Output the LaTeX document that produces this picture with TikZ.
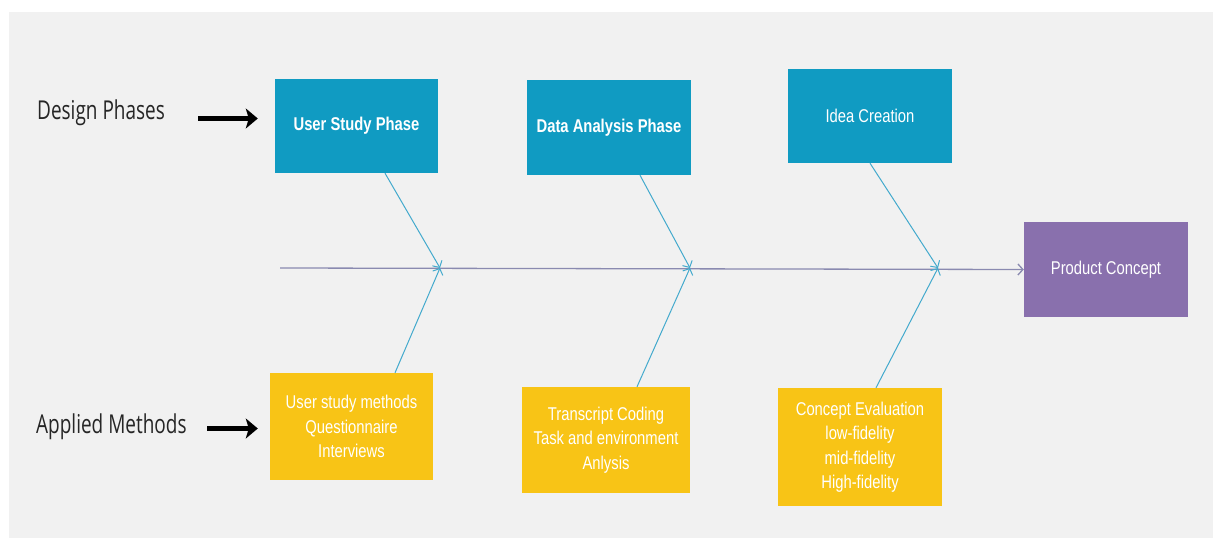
\documentclass[tikz,border=0pt]{standalone}
\usepackage{fontspec}
\usetikzlibrary{arrows.meta,calc}
\newfontfamily\boxfont[FakeStretch=0.8]{Liberation Sans}
\newfontfamily\labelfont[FakeStretch=0.73]{Open Sans}
\definecolor{bggray}{HTML}{F1F1F1}
\definecolor{phaseteal}{HTML}{109BC2}
\definecolor{methodyellow}{HTML}{F8C416}
\definecolor{conceptpurple}{HTML}{8970AD}
\definecolor{branchblue}{HTML}{43AACD}
\definecolor{spinegray}{HTML}{8A8AB0}
\tikzset{
	phase/.style={fill=phaseteal, text=white, align=center, inner sep=2pt,
		font=\boxfont\bfseries\fontsize{18.5}{24.5}\selectfont},
	method/.style={fill=methodyellow, text=white, align=center, inner sep=2pt,
		font=\boxfont\fontsize{18.5}{24.5}\selectfont},
	sidelabel/.style={text=black!85, inner sep=0pt, anchor=base west,
		font=\labelfont\fontsize{26}{30}\selectfont},
	bigarrow/.style={line width=4.5pt, -{Stealth[length=12pt,width=20pt,inset=3pt]}},
	branch/.style={draw=branchblue, line width=1pt, -{Straight Barb[length=5pt,width=11pt]}},
}

\begin{document}
\begin{tikzpicture}[x=1pt,y=-1pt]
			%%%%% START %%%%%
			
			\useasboundingbox (0,0) rectangle (1213,538);
			\fill[white] (0,0) rectangle (1213,538);
			\fill[bggray] (9,12) rectangle (1213,538);
			
			% side labels
			\node[sidelabel] (dp) at (37,119) {Design Phases};
			\node[sidelabel] (am) at (36,433) {Applied Methods};
			
			% design phases
			\node[phase, minimum width=163pt, minimum height=94pt] (usp) at (356.5,126) {User Study Phase};
			\node[phase, minimum width=164pt, minimum height=95pt] (dap) at (609,127.5) {Data Analysis Phase};
			\node[phase, font=\boxfont\fontsize{18.5}{24.5}\selectfont, minimum width=164pt, minimum height=94pt] (ic) at (870,116) {Idea Creation};
			
			% applied methods
			\node[method, minimum width=163pt, minimum height=107pt] (usm) at (351.5,426.5) {User study methods\\Questionnaire\\Interviews};
			\node[method, minimum width=168pt, minimum height=106pt] (tc) at (606,440) {Transcript Coding\\Task and environment\\Anlysis};
			\node[method, minimum width=164pt, minimum height=118pt] (ce) at (860,447) {Concept Evaluation\\low-fidelity\\mid-fidelity\\High-fidelity};
			
			% result
			\node[method, fill=conceptpurple, minimum width=164pt, minimum height=95pt] (pc) at (1106,269.5) {Product Concept};
			
			% spine
			\coordinate (s0) at (280,268);
			\coordinate (j1) at (440,268);
			\coordinate (j2) at (690,268);
			\coordinate (j3) at (938,268);
			\draw[spinegray, line width=1.3pt, -{Straight Barb[length=5pt,width=11pt]}] (s0) -- (pc.west);
			
			\draw[branch] ([xshift=28.5pt]usp.south) -- (j1);
			\draw[branch] ([xshift=43.5pt]usm.north) -- (j1);
			\draw[branch] ([xshift=31pt]dap.south) -- (j2);
			\draw[branch] ([xshift=31pt]tc.north) -- (j2);
			\draw[branch] (ic.south) -- (j3);
			\draw[branch] ([xshift=16pt]ce.north) -- (j3);
			
			% label arrows
			\coordinate (dpa) at (198,118.5);
			\coordinate (ama) at (207,428.5);
			\draw[bigarrow, shorten >=17pt] (dpa) -- (dpa -| usp.west);
			\draw[bigarrow, shorten >=12pt] (ama) -- (ama -| usm.west);
			
			%%%%% END %%%%%
		\end{tikzpicture}
\end{document}
